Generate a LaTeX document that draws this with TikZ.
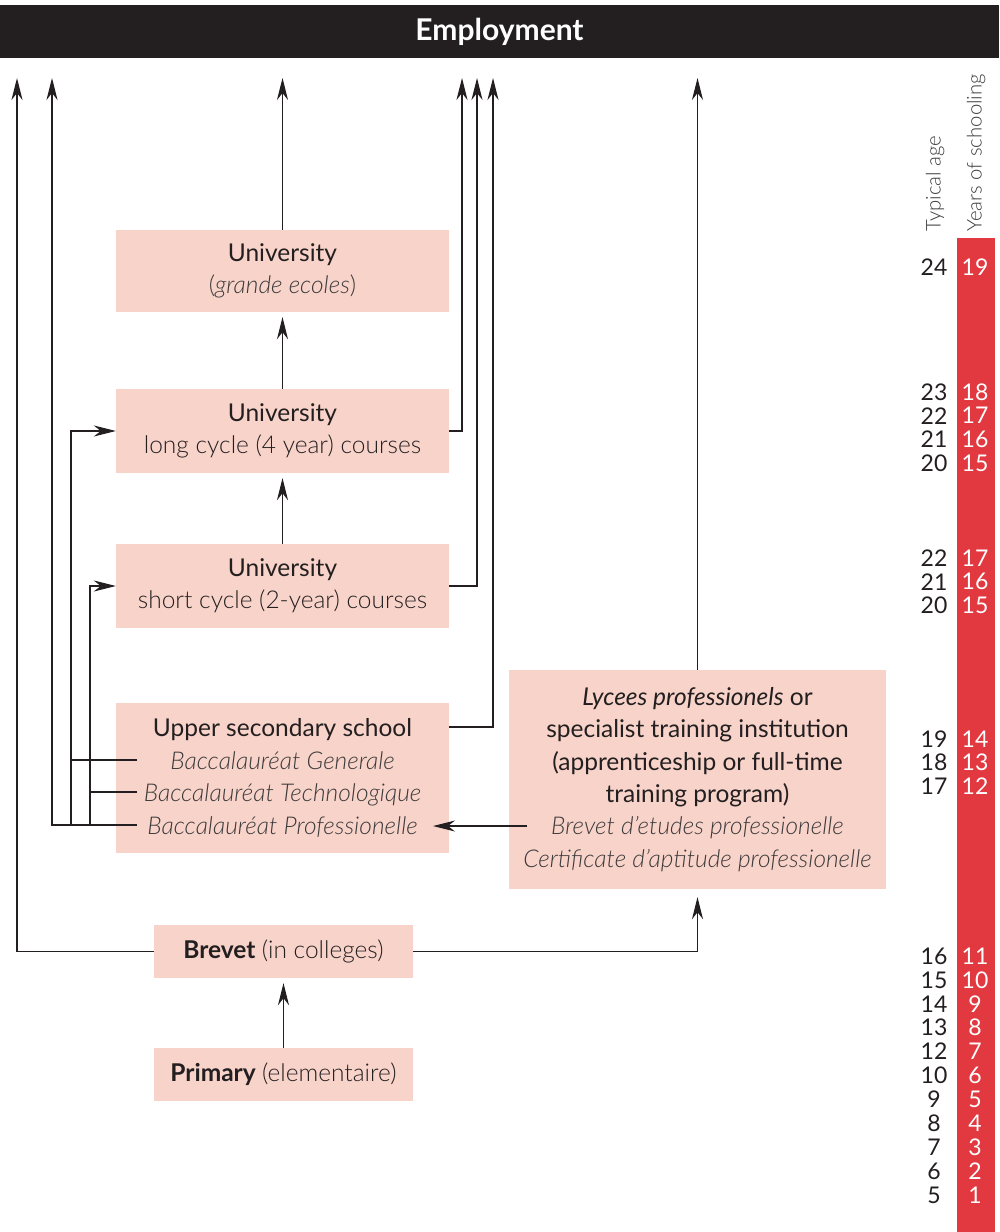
\documentclass[tikz,border=0pt]{standalone}
\usepackage{fontspec}
\setmainfont{Lato}
\newfontfamily\lightfont{Lato Light}
\usetikzlibrary{arrows.meta}
\definecolor{pinkbox}{HTML}{F8D3C9}
\definecolor{redbar}{HTML}{E2383F}
\definecolor{ink}{HTML}{231F20}
\definecolor{greytxt}{HTML}{3C3A3B}
\begin{document}
\begin{tikzpicture}[x=1pt,y=-1pt,
  box/.style={fill=pinkbox, inner sep=0pt, align=center, text=ink, font=\fontsize{24.5}{32.4}\selectfont},
  arr/.style={draw=ink, line width=1.2pt, -{Stealth[length=22pt,width=11pt,inset=7pt]}},
  ln/.style={draw=ink, line width=1.2pt},
  agest/.style={inner sep=0pt, text=ink, font=\fontsize{23}{24}\selectfont},
  yrst/.style={inner sep=0pt, text=white, font=\fontsize{23}{24}\selectfont},
  sidelab/.style={inner sep=0pt, rotate=90, anchor=west, text=greytxt, font=\lightfont\fontsize{20.3}{22}\selectfont}]
\useasboundingbox (0,0) rectangle (999,1232);

% header
\node[fill=ink, minimum width=999pt, minimum height=53pt, inner sep=0pt, text=white,
      font=\bfseries\fontsize{30}{34}\selectfont] (emp) at (499.5,31.5) {Employment};

% boxes
\node[box, minimum width=333pt, minimum height=82pt] (gr) at (282.5,271)
  {University\\{\lightfont\color{greytxt}(\textit{grande ecoles})}};
\node[box, minimum width=333pt, minimum height=84pt] (long) at (282.5,431)
  {University\\{\lightfont long cycle (4 year) courses}};
\node[box, minimum width=333pt, minimum height=84pt] (short) at (282.5,586)
  {University\\{\lightfont short cycle (2-year) courses}};
\node[box, minimum width=333pt, minimum height=150pt] (upper) at (282.5,778)
  {Upper secondary school\\{\lightfont\itshape\color{greytxt}Baccalauréat Generale}\\{\lightfont\itshape\color{greytxt}Baccalauréat Technologique}\\{\lightfont\itshape\color{greytxt}Baccalauréat Professionelle}};
\node[box, minimum width=377pt, minimum height=219pt] (lyc) at (697.5,779.5)
  {\textit{Lycees professionels} or\\specialist training institution\\(apprenticeship or full-time\\training program)\\{\lightfont\itshape\color{greytxt}Brevet d’etudes professionelle}\\{\lightfont\itshape\color{greytxt}Certificate d’aptitude professionelle}};
\node[box, minimum width=259pt, minimum height=53pt] (brev) at (283.5,951.5)
  {\textbf{Brevet} {\lightfont(in colleges)}};
\node[box, minimum width=259pt, minimum height=53pt] (prim) at (283.5,1074.5)
  {\textbf{Primary} {\lightfont(elementaire)}};

% coordinates
\coordinate (topY) at (0,78);
\coordinate (tL) at (17,78);
\coordinate (tB) at (52,78);
\coordinate (tA) at (462,78);
\coordinate (tS) at (477,78);
\coordinate (tU) at (493,78);
\coordinate (bg) at (137,760);
\coordinate (bt) at (137,792);
\coordinate (bp) at (137,825);
\coordinate (v1) at (71,825);
\coordinate (v2) at (90,825);
\coordinate (lycL) at (527,826);
\coordinate (bpTip) at (433,826);

% connectors
\draw[arr] (gr.north) -- (gr.north |- topY);
\draw[arr] (lyc.north) -- (lyc.north |- topY);
\draw[arr, shorten >=5pt] (long.north) -- (gr.south);
\draw[arr, shorten >=5pt] (short.north) -- (long.south);
\draw[arr, shorten >=5pt] (prim.north) -- (brev.south);
\draw[arr, shorten >=8pt] (brev.east) -| (lyc.south);
\draw[arr] (brev.west) -| (tL);
\draw[arr] (long.east) -| (tA);
\draw[arr] (short.east) -| (tS);
\draw[arr] ([yshift=51pt]upper.east) -| (tU);
\draw[arr] (bp) -| (tB);
\draw[arr] (v1) |- (long.west);
\draw[arr] (v2) |- (short.west);
\draw[ln] (bg) -- (bg -| v1);
\draw[ln] (bt) -- (bt -| v2);
\draw[arr] (lycL) -- (bpTip);

% side column
\node[sidelab] (tyage) at (935,232) {Typical age};
\node[sidelab] (yrsch) at (976,232) {Years of schooling};
\node[fill=redbar, minimum width=38pt, minimum height=994pt, inner sep=0pt, anchor=north west] (bar) at (957,238) {};
\foreach \y/\a/\b [count=\k] in {267/24/19, 392/23/18, 415.7/22/17, 439.3/21/16, 463/20/15,
  558/22/17, 581.7/21/16, 605.3/20/15, 739/19/14, 762.7/18/13, 786.3/17/12,
  956/16/11, 979.9/15/10, 1003.8/14/9, 1027.7/13/8, 1051.6/12/7, 1075.5/10/6,
  1099.4/9/5, 1123.3/8/4, 1147.2/7/3, 1171.1/6/2, 1195/5/1}
{
  \node[agest] (age\k) at (934,\y) {\a};
  \node[yrst] (yr\k) at (975,\y) {\b};
}
\end{tikzpicture}
\end{document}
